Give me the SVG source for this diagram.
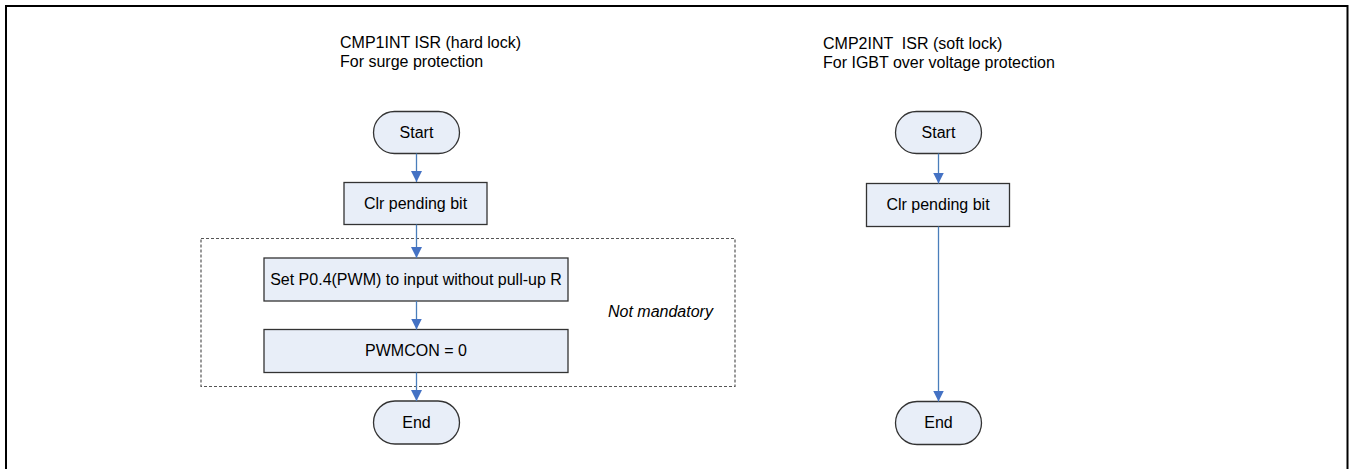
<svg xmlns="http://www.w3.org/2000/svg" width="1355" height="469" viewBox="0 0 1355 469">
<style>
text{font-family:"Liberation Sans",Arial,sans-serif;font-size:16px;fill:#000;white-space:pre}
.c{text-anchor:middle}
.node{fill:#E8EEF8;stroke:#333;stroke-width:1.3}
.conn{stroke:#4A7EBB;stroke-width:1.3;fill:none}
</style>
<defs>
<marker id="ah" markerUnits="userSpaceOnUse" markerWidth="12" markerHeight="12" refX="11" refY="6" orient="auto" viewBox="0 0 12 12">
<path d="M0,0.5 L11,6 L0,11.5 z" fill="#4472C4"/>
</marker>
</defs>
<rect x="6" y="6" width="1341.5" height="480" fill="#fff" stroke="#000" stroke-width="2"/>
<g id="titles">
<text x="340" y="48">CMP1INT ISR (hard lock)</text>
<text x="340" y="67">For surge protection</text>
<text x="823" y="49">CMP2INT  ISR (soft lock)</text>
<text x="823" y="68">For IGBT over voltage protection</text>
</g>
<g id="optional">
<rect x="201" y="238.5" width="534" height="148" fill="none" stroke="#555" stroke-width="1.2" stroke-dasharray="3,2"/>
<text x="608" y="317" font-style="italic">Not mandatory</text>
</g>
<g id="start1"><rect class="node" x="373.5" y="111.5" width="86" height="42" rx="21"/><text class="c" x="416.5" y="138">Start</text></g>
<g id="clr1"><rect class="node" x="344" y="182.5" width="143" height="42"/><text class="c" x="415.5" y="209">Clr pending bit</text></g>
<g id="setp04"><rect class="node" x="264" y="258" width="304" height="43"/><text class="c" x="416" y="285">Set P0.4(PWM) to input without pull-up R</text></g>
<g id="pwmcon"><rect class="node" x="264" y="329.5" width="304" height="43"/><text class="c" x="416" y="356">PWMCON = 0</text></g>
<g id="end1"><rect class="node" x="373.5" y="401" width="86" height="43" rx="21.5"/><text class="c" x="416.5" y="428">End</text></g>
<g id="start2"><rect class="node" x="895.5" y="111.5" width="86" height="42" rx="21"/><text class="c" x="938.5" y="138">Start</text></g>
<g id="clr2"><rect class="node" x="866.5" y="183.5" width="143" height="43"/><text class="c" x="938" y="210">Clr pending bit</text></g>
<g id="end2"><rect class="node" x="895.5" y="401.5" width="86" height="43" rx="21.5"/><text class="c" x="938.5" y="428">End</text></g>
<g id="connectors">
<line class="conn" x1="416.5" y1="153.5" x2="416.5" y2="182" marker-end="url(#ah)"/>
<line class="conn" x1="416.5" y1="224.5" x2="416.5" y2="258" marker-end="url(#ah)"/>
<line class="conn" x1="416.5" y1="301" x2="416.5" y2="329.5" marker-end="url(#ah)"/>
<line class="conn" x1="416.5" y1="372.5" x2="416.5" y2="401" marker-end="url(#ah)"/>
<line class="conn" x1="938.5" y1="153.5" x2="938.5" y2="183.5" marker-end="url(#ah)"/>
<line class="conn" x1="938.5" y1="226.5" x2="938.5" y2="401.5" marker-end="url(#ah)"/>
</g>
</svg>
